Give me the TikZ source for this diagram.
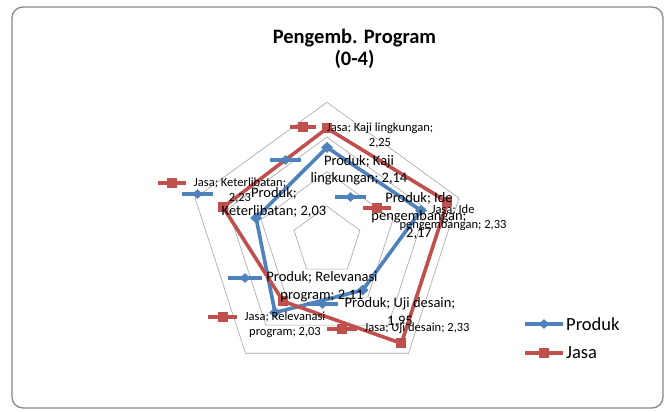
\documentclass[tikz,border=0pt]{standalone}
\usepackage{fontspec}
\setmainfont{Carlito}
\usetikzlibrary{shapes.geometric}
\definecolor{prodc}{HTML}{4F81BD}
\definecolor{jasac}{HTML}{C0504D}
\definecolor{framec}{HTML}{888888}
\definecolor{gridc}{HTML}{A6A6A6}
\tikzset{
  gridline/.style={draw=gridc, line width=0.6pt},
  prodline/.style={draw=prodc, line width=3.6pt, line join=round},
  jasaline/.style={draw=jasac, line width=3.6pt, line join=round},
  diam/.style={diamond, fill=prodc, inner sep=0pt, minimum width=12pt, minimum height=11pt},
  sq/.style={rectangle, fill=jasac, inner sep=0pt, minimum size=10pt},
  pkey/.style={draw=prodc, line width=3.4pt},
  jkey/.style={draw=jasac, line width=3.4pt},
  jlab/.style={font=\fontsize{12.5}{15}\selectfont, align=center, inner sep=0pt},
  plab/.style={font=\fontsize{14.5}{17.5}\selectfont, align=center, inner sep=0pt},
  titlelab/.style={font=\fontsize{20.5}{22}\selectfont\bfseries, align=center, inner sep=0pt},
  leglab/.style={font=\fontsize{18.5}{20}\selectfont, anchor=west, inner sep=0pt},
}
\begin{document}
\begin{tikzpicture}[x=1pt,y=-1pt]
\useasboundingbox (0,0) rectangle (670,412);
\fill[white] (0,0) rectangle (670,412);
\draw[draw=framec, line width=1.3pt, rounded corners=11pt] (12,7) rectangle (663,408);
\node[titlelab] (title) at (354.5,49) {Pengemb. Program\\(0-4)};
% grid pentagons
\foreach \k in {1,2,3,4}{
  \draw[gridline] ({327+34.675*\k*cos(90)},{241-34.675*\k*sin(90)})
    -- ({327+34.675*\k*cos(18)},{241-34.675*\k*sin(18)})
    -- ({327+34.675*\k*cos(-54)},{241-34.675*\k*sin(-54)})
    -- ({327+34.675*\k*cos(-126)},{241-34.675*\k*sin(-126)})
    -- ({327+34.675*\k*cos(162)},{241-34.675*\k*sin(162)}) -- cycle;
}
% data points (value v -> r = (v-1.6)*173.375)
\coordinate (pk) at ({327+(2.14-1.6)*173.375*cos(90)},{241-(2.14-1.6)*173.375*sin(90)});
\coordinate (pi) at ({327+(2.17-1.6)*173.375*cos(18)},{241-(2.17-1.6)*173.375*sin(18)});
\coordinate (pu) at ({327+(1.95-1.6)*173.375*cos(-54)},{241-(1.95-1.6)*173.375*sin(-54)});
\coordinate (pr) at ({327+(2.11-1.6)*173.375*cos(-126)},{241-(2.11-1.6)*173.375*sin(-126)});
\coordinate (pt) at ({327+(2.03-1.6)*173.375*cos(162)},{241-(2.03-1.6)*173.375*sin(162)});
\coordinate (jk) at ({327+(2.25-1.6)*173.375*cos(90)},{241-(2.25-1.6)*173.375*sin(90)});
\coordinate (ji) at ({327+(2.33-1.6)*173.375*cos(18)},{241-(2.33-1.6)*173.375*sin(18)});
\coordinate (ju) at ({327+(2.33-1.6)*173.375*cos(-54)},{241-(2.33-1.6)*173.375*sin(-54)});
\coordinate (jr) at ({327+(2.03-1.6)*173.375*cos(-126)},{241-(2.03-1.6)*173.375*sin(-126)});
\coordinate (jt) at ({327+(2.23-1.6)*173.375*cos(162)},{241-(2.23-1.6)*173.375*sin(162)});
% series
\draw[prodline] (pk) -- (pi) -- (pu) -- (pr) -- (pt) -- cycle;
\foreach \p in {pk,pi,pu,pr,pt} \node[diam] at (\p) {};
\draw[jasaline] (jk) -- (ji) -- (ju) -- (jr) -- (jt) -- cycle;
\foreach \p in {jk,ji,ju,jr,jt} \node[sq] at (\p) {};
% label keys
\draw[jkey] (290,127) -- (316,127) node[sq,midway] (jk1) {};
\draw[pkey] (270,160) -- (301,160) node[diam,midway] (pk1) {};
\draw[jkey] (158,183) -- (186,183) node[sq,midway] (jk2) {};
\draw[pkey] (182,194) -- (213,194) node[diam,midway] (pk2) {};
\draw[pkey] (335,197) -- (366,197) node[diam,midway] (pk3) {};
\draw[jkey] (363,208) -- (391,208) node[sq,midway] (jk3) {};
\draw[pkey] (228,278) -- (262,278) node[diam,midway] (pk4) {};
\draw[jkey] (208,317) -- (237,317) node[sq,midway] (jk4) {};
\draw[pkey] (307,304) -- (338,304) node[diam,midway] (pk5) {};
\draw[jkey] (327,329) -- (357,329) node[sq,midway] (jk5) {};
% labels
\node[jlab] (l1) at (380,135.5) {Jasa; Kaji lingkungan;\\2,25};
\node[plab] (l2) at (359,170) {Produk; Kaji\\lingkungan; 2,14};
\node[jlab] (l3) at (240,190.5) {Jasa; Keterlibatan;\\2,23};
\node[plab] (l4) at (274,202.5) {Produk;\\Keterlibatan; 2,03};
\node[plab] (l5) at (419,216) {Produk; Ide\\pengembangan;\\2,17};
\node[jlab] (l6) at (453,218) {Jasa; Ide\\pengembangan; 2,33};
\node[plab] (l7) at (322,286.5) {Produk; Relevanasi\\program; 2,11};
\node[jlab] (l8) at (285,324.5) {Jasa; Relevanasi\\program; 2,03};
\node[plab] (l9) at (400,312.5) {Produk; Uji desain;\\1,95};
\node[jlab] (l10) at (417,328.5) {Jasa; Uji desain; 2,33};
% legend
\draw[pkey] (525,324) -- (563,324) node[diam,midway] (lgp) {};
\node[leglab] (lgpt) at (566,324) {Produk};
\draw[jkey] (525,353) -- (563,353) node[sq,midway] (lgj) {};
\node[leglab] (lgjt) at (566,353) {Jasa};
\end{tikzpicture}
\end{document}
